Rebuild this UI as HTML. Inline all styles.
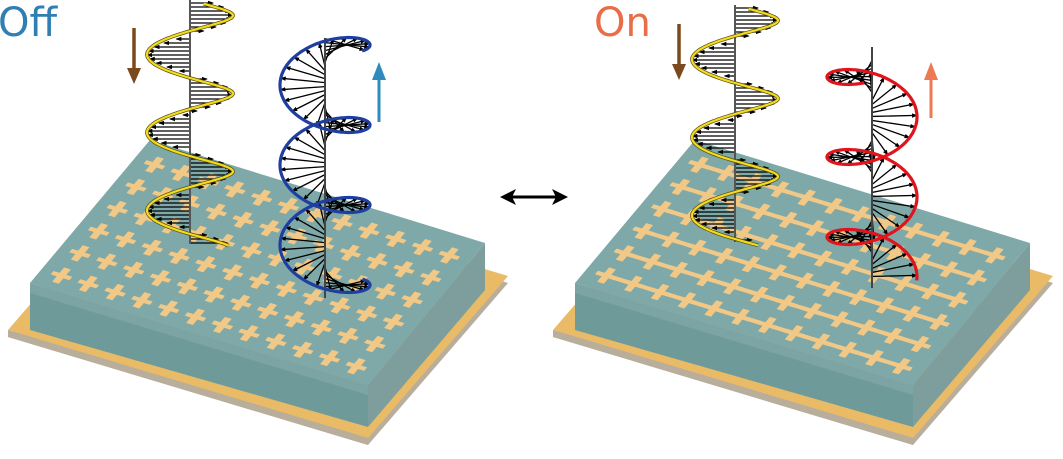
<!DOCTYPE html>
<html><head><meta charset="utf-8">
<style>
html,body{margin:0;padding:0;background:#fff;}
svg{display:block;}
text{font-family:"DejaVu Sans","Liberation Sans",sans-serif;}
</style></head>
<body>
<svg id="s" width="1063" height="459" viewBox="0 0 1063 459" xmlns="http://www.w3.org/2000/svg">
<defs>
<marker id="ah" markerWidth="6" markerHeight="6" refX="5" refY="3" orient="auto" markerUnits="userSpaceOnUse">
<path d="M0,0.8 L6,3 L0,5.2z" fill="#000"/></marker>
</defs>
<text x="-2" y="36" font-size="40" fill="#2f7fb2">Off</text>
<text x="594" y="36" font-size="40" fill="#e96d47">On</text>
<g id="p1"></g>
<g id="p2" transform="translate(545,0)"></g>
<g id="over"></g>
<line x1="134" y1="28" x2="134" y2="72" stroke="#7a4a1e" stroke-width="3.5"/>
<path d="M127,68 L141,68 L134,84z" fill="#7a4a1e"/>
<line x1="679" y1="24" x2="679" y2="68" stroke="#7a4a1e" stroke-width="3.5"/>
<path d="M672,64 L686,64 L679,80z" fill="#7a4a1e"/>
<line x1="379" y1="78" x2="379" y2="122" stroke="#2f8bbd" stroke-width="3"/>
<path d="M372,80 L386,80 L379,62z" fill="#2f8bbd"/>
<line x1="931" y1="78" x2="931" y2="118" stroke="#ec7a52" stroke-width="3"/>
<path d="M924,80 L938,80 L931,62z" fill="#ec7a52"/>
<line x1="512" y1="197" x2="556" y2="197" stroke="#000" stroke-width="3"/>
<path d="M500,197 L516,189 L512,197 L516,205z" fill="#000"/>
<path d="M568,197 L552,189 L556,197 L552,205z" fill="#000"/>
</svg>
<script>
var NS="http://www.w3.org/2000/svg";
function el(p,t,a){var e=document.createElementNS(NS,t);for(var k in a)e.setAttribute(k,a[k]);p.appendChild(e);return e;}
function slab(g,on){
 el(g,"polygon",{points:"8,337 148,175 508,283 368,445",fill:"#b9ad9c"});
 el(g,"polygon",{points:"8,330 148,168 508,276 368,438",fill:"#e9bb66"});
 el(g,"polygon",{points:"8,330 368,438 368,445 8,337",fill:"#b9ad9c"});
 el(g,"polygon",{points:"30,283 368,385 368,427 30,330",fill:"#6f9a9a"});
 el(g,"polygon",{points:"368,385 485,243 485,290 368,427",fill:"#7e9e9e"});
 el(g,"polygon",{points:"150,140 485,243 368,385 30,283",fill:"#7ea9a8"});
 el(g,"polygon",{points:"30,283 368,385 368,395 30,293",fill:"#89aeae","fill-opacity":"0.5"});
 var c=el(g,"g",{transform:"matrix(335,103,-120,143,150,140)",fill:"#f2c887"});
 var rows=6,cols=12;
 for(var r=0;r<rows;r++){
  var v=0.13+r*0.155;
  if(on) el(c,"rect",{x:0.03,y:v-0.012,width:0.94,height:0.024});
  for(var k=0;k<cols;k++){
   var u=0.06+k*0.08;
   el(c,"rect",{x:u-0.028,y:v-0.012,width:0.056,height:0.024});
   el(c,"rect",{x:u-0.01,y:v-0.05,width:0.02,height:0.1});
  }
 }
}
slab(document.getElementById("p1"),false);
slab(document.getElementById("p2"),true);
var O=document.getElementById("over");
function linear(cx,y0,y1,ys){
 var P=78,A=43,d="",n=0;
 for(var y=y0;y<=y1;y+=1){var x=cx+A*Math.sin(2*Math.PI*(y-ys)/P);d+=(n++?"L":"M")+x.toFixed(1)+","+(y+4*Math.cos(2*Math.PI*(y-ys)/P)).toFixed(1);}
 for(var y=y0+3;y<=y1;y+=4){var x=cx+A*Math.sin(2*Math.PI*(y-ys)/P);if(Math.abs(x-cx)>4)el(O,"line",{x1:cx,y1:y,x2:x,y2:y,stroke:"#000","stroke-width":"1.3","marker-end":"url(#ah)"});}
 el(O,"line",{x1:cx,y1:y0,x2:cx,y2:y1,stroke:"#555","stroke-width":"2"});
 el(O,"path",{d:d,fill:"none",stroke:"#5a4a10","stroke-width":"3.6"});
 el(O,"path",{d:d,fill:"none",stroke:"#f2dc1e","stroke-width":"2.2"});
}
function circ(cx,ys,t0,turns,col,sgn,a0,a1){
 var P=80,A=45,b=24,d="",n=0;
 function pt(t){return [cx+sgn*A*Math.cos(t),ys+P*t/(2*Math.PI)-b*Math.sin(t)];}
 var T=turns*2*Math.PI;
 for(var t=t0;t<=T;t+=0.04){var p=pt(t);d+=(n++?"L":"M")+p[0].toFixed(1)+","+p[1].toFixed(1);}
 for(var t=t0+0.1;t<=T;t+=Math.PI/10){var p=pt(t);var ay=ys+P*t/(2*Math.PI);el(O,"line",{x1:cx,y1:ay,x2:p[0],y2:p[1],stroke:"#000","stroke-width":"1.3","marker-end":"url(#ah)"});}
 el(O,"line",{x1:cx,y1:a0,x2:cx,y2:a1,stroke:"#444","stroke-width":"2"});
 el(O,"path",{d:d,fill:"none",stroke:col,"stroke-width":"3.2"});
}
linear(190,0,244,-4);
linear(735,5,242,1);
circ(325,45,-0.6,3.1,"#1f3fa0",1,38,298);
circ(872,77,-1.4,2.52,"#e0141c",-1,47,288);
</script>
</body></html>
